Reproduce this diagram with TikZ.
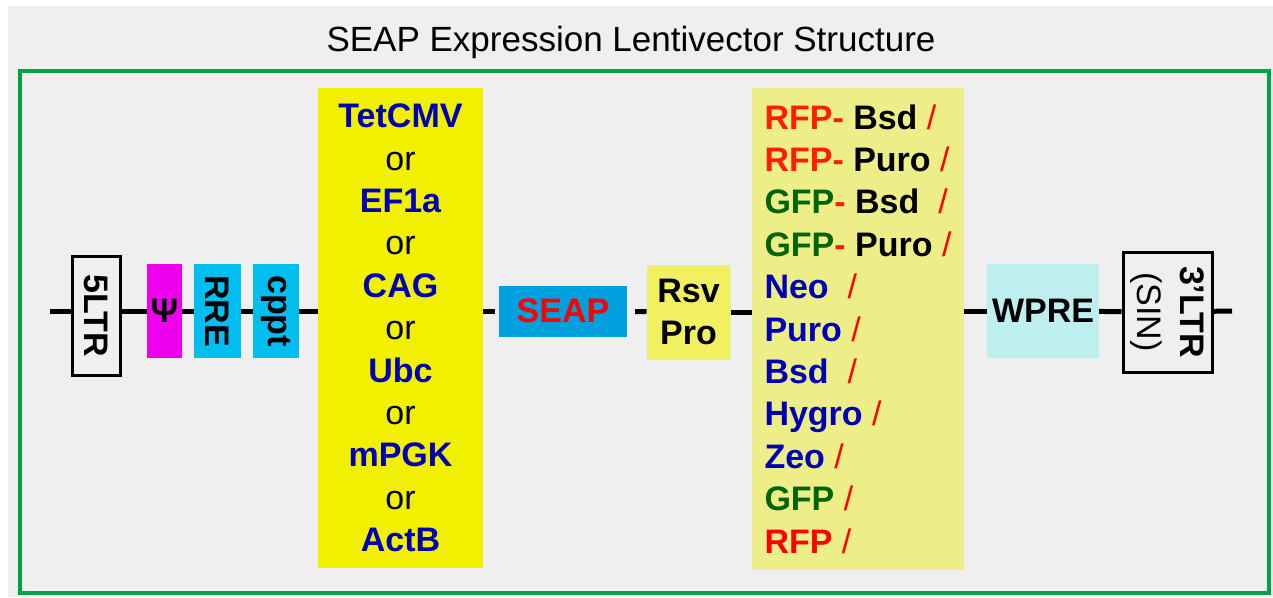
\documentclass[tikz,border=0pt]{standalone}
\usepackage{fontspec}
\setmainfont{Liberation Sans}
\usetikzlibrary{positioning}
\definecolor{bggray}{RGB}{239,239,239}
\definecolor{framegreen}{RGB}{0,163,68}
\definecolor{psimag}{RGB}{238,0,238}
\definecolor{rrecyan}{RGB}{0,190,240}
\definecolor{promyel}{RGB}{240,240,0}
\definecolor{seapblue}{RGB}{0,160,222}
\definecolor{rsvyel}{RGB}{240,240,96}
\definecolor{rsvedge}{RGB}{215,240,170}
\definecolor{selyel}{RGB}{238,238,136}
\definecolor{wprecyan}{RGB}{190,238,238}
\definecolor{genblue}{RGB}{0,0,180}
\definecolor{gfpgreen}{RGB}{0,100,0}
\definecolor{rfpred}{RGB}{255,30,0}
\newcommand{\orword}{{\mdseries\color{black}or}}
\newcommand{\selslash}{\textcolor{red}{\mdseries/}}
\tikzset{
  % --- vector parts ----------------------------------------------------------
  part/.style={rectangle,inner sep=0pt,align=center,
               font=\fontsize{34}{42.4}\selectfont\bfseries},
  vpart/.style={part,rotate=-90},
  ltrbox/.style={part,draw,line width=3pt,rotate=-90},
  % --- backbone --------------------------------------------------------------
  bb/.style={line width=5pt},
}
\begin{document}
\begin{tikzpicture}[x=1pt,y=-1pt]
  \useasboundingbox (0,0) rectangle (1273,597);
  \fill[white] (0,0) rectangle (1273,597);
  \fill[bggray] (8,6) rectangle (1273,597);
  \node (title) at (631,42) {\fontsize{35}{42}\selectfont SEAP Expression Lentivector Structure};
  \draw[framegreen,line width=4pt] (20,71) rectangle (1269,593);
  % parts, left to right
  \node[ltrbox,minimum width=119pt,minimum height=48pt] (ltr5) at (96,315.5) {5LTR};
  \node[part,fill=psimag,minimum width=35pt,minimum height=94pt] (psi) at (164.5,311) {Ψ};
  \node[vpart,fill=rrecyan,minimum width=94pt,minimum height=47pt] (rre) at (217.5,311) {RRE};
  \node[vpart,fill=rrecyan,minimum width=94pt,minimum height=46pt] (cppt) at (276,311) {cppt};
  \node[part,fill=promyel,text=genblue,minimum width=165pt,minimum height=480pt] (prom) at (400.5,328)
    {TetCMV\\\orword\\EF1a\\\orword\\CAG\\\orword\\Ubc\\\orword\\mPGK\\\orword\\ActB};
  \node[part,fill=seapblue,text=red,minimum width=128pt,minimum height=51pt] (seap) at (563,311) {SEAP};
  \node[part,fill=rsvyel,draw=rsvedge,line width=1pt,minimum width=83pt,minimum height=94pt] (rsv) at (688.5,312) {Rsv\\Pro};
  \node[part,align=left,fill=selyel,minimum width=212pt,minimum height=482pt] (sel) at (858,329)
    {\textcolor{rfpred}{RFP-} Bsd \selslash\\
     \textcolor{rfpred}{RFP-} Puro \selslash\\
     \textcolor{gfpgreen}{GFP}\textcolor{rfpred}{-} Bsd~~\selslash\\
     \textcolor{gfpgreen}{GFP}\textcolor{rfpred}{-} Puro \selslash\\
     \textcolor{genblue}{Neo}~~\selslash\\
     \textcolor{genblue}{Puro} \selslash\\
     \textcolor{genblue}{Bsd}~~\selslash\\
     \textcolor{genblue}{Hygro} \selslash\\
     \textcolor{genblue}{Zeo} \selslash\\
     \textcolor{gfpgreen}{GFP} \selslash\\
     \textcolor{red}{RFP} \selslash};
  \node[part,fill=wprecyan,minimum width=112pt,minimum height=94pt] (wpre) at (1043,311) {WPRE};
  \node[ltrbox,minimum width=120pt,minimum height=89pt] (ltr3) at (1167.5,312) {3’LTR\\{\mdseries(SIN)}};
  % backbone
  \coordinate (lend) at (50,311);
  \coordinate (rend) at (1232,311);
  \draw[bb] (lend) -- (lend -| ltr5.south);
  \draw[bb] (psi -| ltr5.north) -- (psi);
  \draw[bb] (psi) -- (rre);
  \draw[bb] (rre) -- (cppt);
  \draw[bb] (cppt) -- (cppt -| prom.west);
  \draw[bb,shorten >=4pt] (seap -| prom.east) -- (seap);
  \draw[bb,shorten <=8pt] (seap) -- (rsv);
  \draw[bb] (rsv) -- (rsv -| sel.west);
  \draw[bb] (wpre -| sel.east) -- (wpre);
  \draw[bb] (wpre) -- (ltr3);
  \draw[bb] (ltr3) -- (rend);
\end{tikzpicture}
\end{document}
